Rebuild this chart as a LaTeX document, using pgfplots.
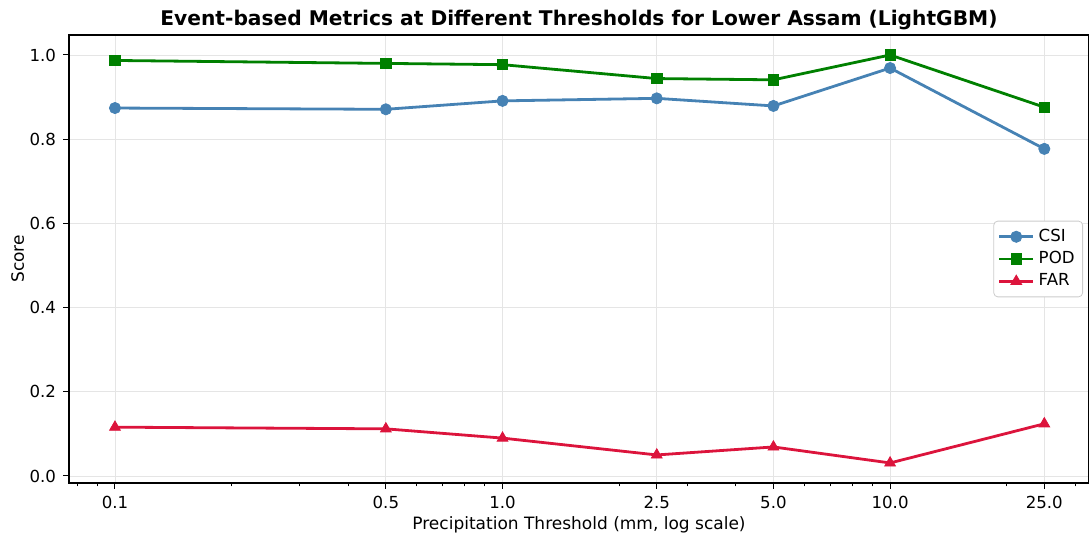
\documentclass[border=0pt]{standalone}
\usepackage{fontspec}
\setmainfont{DejaVu Sans}
\usepackage{pgfplots}
\pgfplotsset{compat=1.18}
\definecolor{csi}{HTML}{4682B4}
\definecolor{pod}{HTML}{008000}
\definecolor{far}{HTML}{DC143C}
\begin{document}
\begin{tikzpicture}
\begin{axis}[
    scale only axis,
    width=510pt, height=224pt,
    xmode=log,
    xmin=0.0761, xmax=32.6,
    ymin=-0.0166, ymax=1.0475,
    xtick={0.1,0.5,1,2.5,5,10,25},
    xticklabels={0.1,0.5,1.0,2.5,5.0,10.0,25.0},
    minor xtick={0.08,0.09,0.2,0.3,0.4,0.6,0.7,0.8,0.9,2,3,4,6,7,8,9,20,30},
    ytick={0,0.2,0.4,0.6,0.8,1.0},
    yticklabel style={/pgf/number format/.cd, fixed, fixed zerofill, precision=1},
    /pgf/number format/assume math mode=true,
    ticklabel style={font=\fontsize{8.3}{10}\selectfont},
    tick align=outside, tick pos=left,
    major tick length=3pt, minor tick length=1.75pt,
    tick style={black, line width=0.5pt},
    axis line style={black, line width=0.6pt},
    xmajorgrids, ymajorgrids,
    grid style={gray!20, line width=0.4pt},
    title={\bfseries Event-based Metrics at Different Thresholds for Lower Assam (LightGBM)},
    title style={font=\fontsize{10.1}{12}\selectfont, at={(axis description cs:0.5,1)}, yshift=-7pt},
    xlabel={Precipitation Threshold (mm, log scale)},
    xlabel style={font=\fontsize{8.5}{10}\selectfont, at={(axis description cs:0.5,0)}, anchor=base, yshift=-23.5pt},
    ylabel={Score},
    ylabel style={font=\fontsize{8.5}{10}\selectfont, at={(axis description cs:0,0.5)}, anchor=base, yshift=22.5pt},
    legend style={at={(axis description cs:1,0.5)}, anchor=east, xshift=-3pt,
        draw=gray!40, rounded corners=2pt, font=\fontsize{8.3}{10}\selectfont,
        row sep=-0.5pt, inner sep=2pt},
    legend cell align=left,
]
\addplot[csi, line width=1.4pt, mark=*, mark size=2.8pt, mark options={solid, fill=csi, line width=0.4pt}] coordinates {
    (0.1,0.874) (0.5,0.871) (1.0,0.891) (2.5,0.897) (5.0,0.879) (10.0,0.969) (25.0,0.777)
};
\addlegendentry{CSI}
\addplot[pod, line width=1.4pt, mark=square*, mark size=2.6pt, mark options={solid, fill=pod, line width=0.4pt}] coordinates {
    (0.1,0.987) (0.5,0.980) (1.0,0.977) (2.5,0.944) (5.0,0.941) (10.0,1.000) (25.0,0.876)
};
\addlegendentry{POD}
\addplot[far, line width=1.4pt, mark=triangle*, mark size=3.1pt, mark options={solid, fill=far, line width=0.4pt}] coordinates {
    (0.1,0.116) (0.5,0.112) (1.0,0.090) (2.5,0.050) (5.0,0.069) (10.0,0.031) (25.0,0.124)
};
\addlegendentry{FAR}
\end{axis}
\pgfresetboundingbox
\path[use as bounding box] ([xshift=-34.5pt,yshift=-27.5pt]current axis.south west) rectangle ([yshift=17.5pt]current axis.north east);
\end{tikzpicture}
\end{document}
